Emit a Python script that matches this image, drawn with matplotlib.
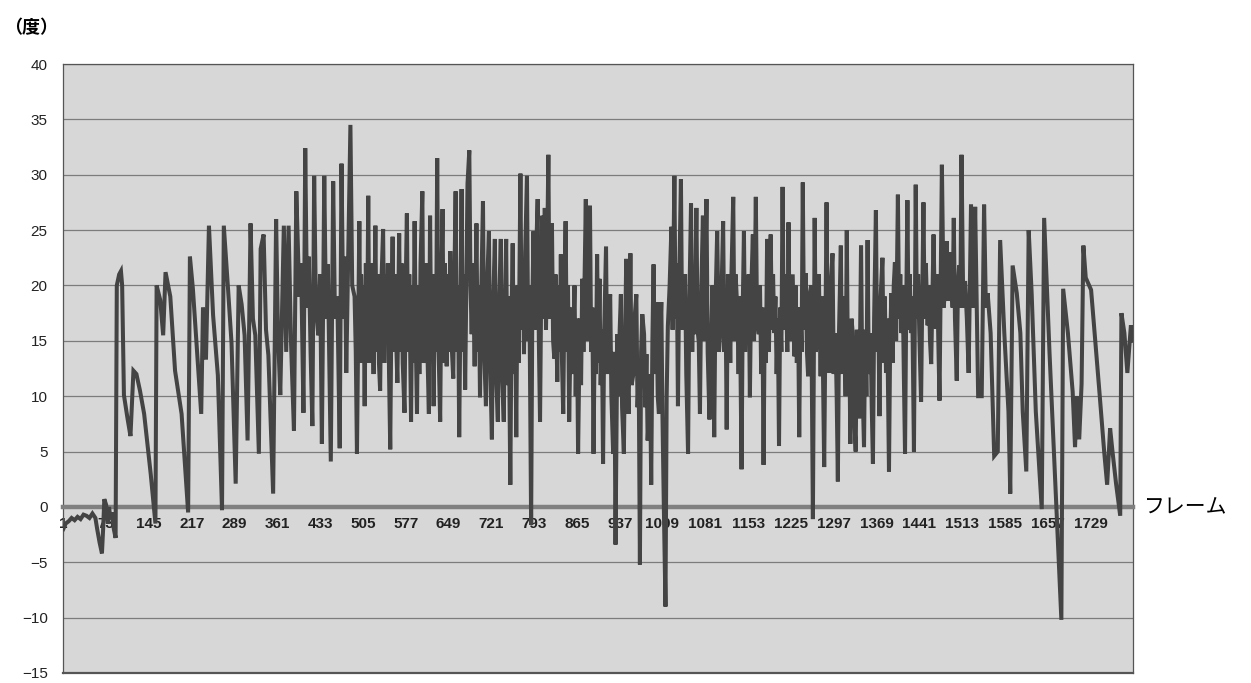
import matplotlib
matplotlib.use("Agg")
import matplotlib.pyplot as plt

# (frame, angle in degrees), split by phase
settle = [
    (1, -2.0), (5, -1.5), (10, -1.3), (15, -1.0), (20, -1.2), (25, -0.9), (30, -1.1), (35, -0.7),
    (40, -0.8), (45, -1.0), (50, -0.6), (55, -1.0), (58, -2.0), (62, -3.2), (66, -4.2), (68, -2.0),
    (70, 0.7), (73, 0.2), (76, -1.5), (78, 0.0), (80, -1.0), (83, -0.5), (86, -2.0), (89, -2.8),
]
ramp = [
    (91, 20.0), (95, 21.0), (98, 21.3), (100, 20.0), (103, 10.1), (109, 8.0), (114, 6.4), (119, 12.3),
    (124, 12.0), (130, 10.5), (137, 8.4), (143, 5.5), (148, 3.0), (156, -1.5), (158, 20.0), (164, 18.7),
    (169, 15.5), (173, 21.2), (181, 19.0), (189, 12.3), (200, 8.4), (211, -0.5), (214, 22.6), (219, 19.7),
    (225, 14.8), (233, 8.4), (236, 18.0), (241, 13.3), (246, 25.4), (253, 17.3), (261, 11.9), (268, -0.3),
    (271, 25.4), (278, 19.8), (284, 14.8), (291, 2.1), (296, 20.0), (301, 18.3), (306, 15.5), (311, 6.0),
    (316, 25.6), (320, 17.0), (324, 15.5), (330, 4.8), (333, 23.3), (338, 24.6), (342, 16.0), (346, 13.7),
    (354, 1.2), (359, 26.0), (362, 16.0), (366, 10.1), (372, 25.4), (376, 14.0), (380, 25.4), (384, 15.0),
    (389, 6.9), (393, 28.5), (398, 19.0), (401, 22.0), (405, 8.5), (408, 32.4), (411, 18.0), (414, 22.6),
    (417, 14.0), (420, 7.3), (423, 29.9), (426, 18.0), (430, 15.5), (433, 21.0), (436, 5.7), (440, 29.9),
    (443, 17.0), (446, 21.9), (451, 4.1), (455, 29.4), (458, 17.0), (462, 19.0), (466, 5.3), (469, 31.0),
    (472, 17.0), (475, 22.6), (477, 12.1), (484, 34.5),
]
dense_a = [
    (487, 20.0), (491, 19.0), (493, 14.0), (495, 4.8), (499, 25.8), (501, 13.0), (502, 21.0), (504, 15.5),
    (506, 20.0), (508, 9.1), (510, 22.0), (512, 14.0), (514, 28.1), (516, 13.0), (518, 22.0), (521, 17.3),
    (523, 12.0), (526, 25.4), (528, 14.0), (530, 21.0), (532, 13.0), (534, 10.5), (536, 20.0), (539, 25.1),
    (541, 13.0), (543, 21.0), (545, 15.5), (547, 22.0), (549, 12.0), (551, 5.2), (553, 18.0), (555, 24.4),
    (557, 14.0), (559, 21.0), (561, 15.0), (563, 11.2), (566, 24.7), (568, 14.0), (570, 22.0), (572, 13.0),
    (575, 8.5), (577, 20.0), (579, 26.5), (581, 14.0), (583, 21.0), (586, 7.7), (588, 20.0), (590, 13.0),
    (592, 25.8), (594, 15.0), (596, 8.4), (598, 20.0), (600, 12.0), (602, 22.0), (605, 28.5), (607, 13.0),
    (610, 15.6), (612, 22.0), (614, 13.0), (616, 8.4), (618, 26.3), (620, 14.0), (622, 21.0), (624, 9.1),
    (626, 20.0), (628, 14.0), (630, 31.5), (632, 15.0), (635, 7.7), (637, 20.0), (639, 26.9), (641, 13.0),
    (643, 22.0), (646, 12.7), (648, 21.0), (650, 14.0), (652, 23.1), (654, 15.0), (657, 11.6), (659, 21.0),
    (661, 28.5), (663, 14.0), (665, 20.0), (667, 6.3), (669, 18.0), (671, 28.7), (673, 14.0), (675, 21.0),
    (677, 10.6), (679, 20.0), (681, 29.2), (684, 32.2), (686, 20.0), (688, 15.6), (690, 22.0), (693, 12.7),
    (696, 25.6), (698, 14.0), (700, 20.0), (702, 9.9), (704, 19.0), (707, 27.6), (709, 14.0), (712, 9.1),
    (714, 20.0), (717, 24.9), (719, 13.0), (722, 6.1), (724, 18.0), (727, 24.2), (729, 12.0), (732, 7.7),
    (734, 18.0), (737, 24.2), (739, 12.0), (742, 7.7), (744, 18.0), (746, 24.2), (748, 11.0), (750, 19.0),
    (753, 2.0), (755, 17.0), (757, 23.8), (759, 12.0), (761, 18.0), (763, 6.3), (765, 20.0), (767, 13.0),
    (770, 30.1), (772, 16.0), (774, 22.0), (776, 13.8), (778, 23.0), (781, 29.9), (783, 15.0), (785, 20.0),
    (788, -1.6), (790, 18.0), (792, 24.9), (794, 16.0), (796, 22.0), (799, 27.8), (801, 15.0), (803, 7.7),
    (805, 20.0), (807, 26.3), (809, 17.0), (811, 27.0), (813, 16.0), (815, 23.0), (817, 31.8), (819, 17.0),
    (821, 22.0), (823, 25.6), (825, 15.0), (827, 13.4), (829, 21.0), (832, 11.3), (834, 20.0), (836, 14.0),
    (838, 22.8), (840, 13.0), (842, 8.4), (844, 19.0), (846, 25.8), (848, 14.0), (850, 20.0), (852, 7.7),
    (855, 18.0), (857, 12.0), (859, 15.6), (861, 20.0), (863, 10.0), (865, 17.0), (867, 4.8), (870, 17.0),
    (872, 11.0), (874, 20.6), (876, 14.0), (878, 21.0), (880, 27.8), (882, 15.0), (884, 21.0), (887, 27.2),
    (889, 14.0), (891, 18.0), (893, 4.8), (895, 16.0), (897, 12.0), (899, 22.8), (901, 13.0), (903, 20.6),
    (905, 11.0), (907, 16.0), (909, 3.9), (911, 16.0), (914, 23.5), (916, 12.0), (918, 17.0), (921, 19.2),
    (923, 10.0), (926, 4.8), (928, 14.0), (930, -3.4), (933, 15.6), (935, 10.0), (937, 16.0), (939, 19.2),
    (941, 9.0), (944, 4.8), (946, 15.0), (948, 22.4), (950, 12.0), (952, 8.4), (955, 22.9), (957, 11.0),
    (960, 12.0), (962, 17.0), (965, 19.2), (967, 9.0), (969, 12.0), (971, -5.2), (973, 14.0), (975, 17.4),
    (978, 15.6), (980, 9.0), (982, 13.8), (984, 6.0), (986, 8.4), (988, 12.0), (990, 2.0), (992, 15.0),
    (994, 21.9), (996, 12.0), (999, 18.5), (1001, 10.0), (1003, 8.4), (1005, 15.0), (1007, 18.5), (1009, 8.0),
    (1011, 0.9), (1014, -9.0), (1016, 10.0), (1018, 16.3),
]
dense_b = [
    (1021, 20.0), (1024, 25.3), (1026, 16.0), (1029, 29.9), (1031, 17.0), (1033, 22.0), (1035, 9.1), (1037, 20.0),
    (1040, 29.6), (1042, 16.0), (1045, 17.4), (1047, 21.0), (1049, 12.0), (1052, 4.8), (1054, 18.0), (1057, 27.4),
    (1059, 14.0), (1061, 21.0), (1063, 15.6), (1066, 27.0), (1068, 16.0), (1070, 14.9), (1072, 8.4), (1074, 19.0),
    (1077, 26.3), (1079, 15.0), (1081, 21.0), (1083, 27.8), (1085, 14.0), (1088, 7.9), (1091, 15.6), (1093, 20.0),
    (1096, 6.3), (1098, 18.0), (1101, 24.9), (1104, 14.0), (1107, 16.3), (1109, 21.0), (1111, 25.8), (1113, 14.0),
    (1115, 19.0), (1117, 7.0), (1119, 21.0), (1121, 19.2), (1123, 13.0), (1125, 21.0), (1128, 28.0), (1130, 15.0),
    (1132, 21.0), (1135, 17.7), (1137, 12.0), (1139, 19.0), (1142, 3.4), (1144, 18.0), (1146, 24.9), (1148, 14.0),
    (1150, 20.0), (1152, 15.6), (1154, 21.0), (1156, 9.9), (1158, 19.0), (1161, 24.6), (1163, 15.0), (1166, 28.0),
    (1168, 17.0), (1171, 15.6), (1173, 20.0), (1175, 12.0), (1177, 18.0), (1179, 3.8), (1181, 17.0), (1183, 13.0),
    (1185, 24.2), (1188, 14.0), (1191, 24.6), (1193, 16.0), (1195, 21.0), (1197, 15.7), (1199, 19.0), (1201, 12.0),
    (1203, 17.0), (1205, 5.5), (1207, 18.0), (1209, 14.0), (1211, 28.9), (1213, 16.0), (1215, 21.0), (1217, 19.3),
    (1219, 14.0), (1221, 25.7), (1223, 15.0), (1226, 18.6), (1228, 21.0), (1231, 13.6), (1233, 20.0), (1235, 13.0),
    (1237, 18.0), (1239, 6.3), (1241, 18.0), (1243, 14.0), (1245, 29.3), (1247, 16.0), (1250, 21.1), (1252, 14.0),
    (1254, 11.8), (1256, 19.0), (1259, 20.0), (1262, -1.1), (1265, 26.1), (1267, 14.0), (1270, 15.7), (1272, 21.0),
    (1275, 11.8), (1277, 19.0), (1279, 12.0), (1281, 3.6), (1283, 16.0), (1285, 27.5), (1287, 15.0), (1290, 12.1),
    (1292, 20.0), (1295, 22.9), (1297, 12.0), (1300, 15.7), (1302, 10.0), (1304, 2.3), (1306, 16.0), (1309, 23.6),
    (1311, 12.0), (1313, 19.0), (1315, 16.4), (1317, 10.0), (1319, 25.0), (1321, 12.0), (1323, 16.0), (1325, 5.7),
    (1327, 17.0), (1329, 15.7), (1331, 9.0), (1334, 5.0), (1336, 16.0), (1338, 13.2), (1340, 8.0), (1343, 23.6),
    (1345, 12.0), (1348, 5.4), (1350, 16.0), (1352, 10.0), (1354, 24.1), (1356, 12.0), (1359, 15.7), (1361, 9.0),
    (1363, 3.9), (1365, 17.0), (1368, 26.8), (1370, 14.0), (1372, 18.0), (1374, 8.2), (1376, 19.0), (1379, 22.5),
    (1381, 13.0), (1383, 19.0), (1385, 12.1), (1387, 17.0), (1390, 3.2), (1392, 15.0), (1394, 19.3), (1396, 13.0),
    (1398, 20.0), (1400, 22.1), (1402, 15.0), (1405, 28.2), (1407, 17.0), (1409, 21.0), (1411, 15.7), (1413, 20.0),
    (1415, 12.0), (1417, 4.8), (1419, 18.0), (1421, 27.7), (1423, 16.0), (1425, 21.0), (1427, 15.7), (1429, 19.0),
    (1432, 5.0), (1435, 29.1), (1437, 17.0), (1439, 21.0), (1441, 15.7), (1444, 9.5), (1446, 19.0), (1448, 27.5),
    (1450, 17.0), (1452, 22.0), (1455, 16.4), (1457, 20.0), (1459, 15.0), (1461, 12.9), (1463, 19.0), (1465, 24.6),
    (1467, 18.0), (1469, 16.1), (1471, 21.0), (1473, 15.0), (1475, 9.6), (1479, 30.9), (1482, 18.0), (1485, 20.0),
    (1487, 24.0), (1489, 18.6), (1492, 23.0), (1495, 21.1), (1497, 18.0), (1499, 26.1), (1501, 17.0), (1504, 11.4),
    (1506, 20.0), (1508, 21.8), (1510, 18.0), (1512, 31.8), (1515, 18.0), (1518, 20.4), (1521, 17.0), (1524, 12.1),
    (1526, 20.0), (1528, 27.3), (1531, 18.0), (1533, 21.0), (1535, 27.1),
]
tail = [
    (1540, 10.0), (1546, 10.0), (1550, 27.3), (1553, 18.0), (1556, 19.3), (1561, 15.7), (1567, 4.6), (1573, 5.0),
    (1577, 24.1), (1584, 15.7), (1591, 8.6), (1594, 1.2), (1598, 21.8), (1605, 19.3), (1611, 15.7), (1615, 8.6),
    (1621, 3.2), (1625, 25.0), (1630, 19.3), (1637, 8.6), (1647, -0.2), (1651, 26.1), (1660, 14.0), (1670, 2.0),
    (1680, -10.2), (1683, 19.7), (1691, 15.7), (1699, 10.4), (1703, 5.4), (1706, 10.0), (1710, 6.1), (1714, 11.1),
    (1717, 23.6), (1721, 20.7), (1730, 19.6), (1736, 15.7), (1744, 10.4), (1752, 5.0), (1757, 2.0), (1762, 7.1),
    (1766, 5.0), (1772, 2.1), (1779, -0.8), (1781, 17.5), (1786, 15.7), (1791, 12.1), (1797, 16.4), (1799, 15.0),
]

tick_frames = list(range(1, 1730, 72))
y_ticks = list(range(-15, 41, 5))
n_frames = 1800

frames, angles = zip(*(settle + ramp + dense_a + dense_b + tail))

W, H, DPI = 1251, 683, 100
fig = plt.figure(figsize=(W / DPI, H / DPI), dpi=DPI)
fig.patch.set_facecolor("white")
ax = fig.add_axes([63 / W, 1 - 673 / H, (1133 - 63) / W, (673 - 64) / H])
ax.set_facecolor("#d7d7d7")

ax.plot(frames, angles, color="#444444", lw=2.9, solid_joinstyle="miter", zorder=3)

ax.set_xlim(0.5, n_frames + 0.5)
ax.set_ylim(-15, 40)
ax.set_yticks(y_ticks)
ax.set_yticklabels([str(v) if v >= 0 else "\u2212" + str(-v) for v in y_ticks])
ax.yaxis.grid(True, color="#7c7c7c", lw=0.9)
ax.set_axisbelow(True)
ax.tick_params(axis="y", length=0, pad=11, labelsize=11, labelcolor="#222222")
for lbl in ax.get_yticklabels():
    lbl.set_family("Liberation Sans")

# category axis crosses at 0
ax.spines["bottom"].set_position(("data", 0))
ax.spines["bottom"].set_color("#808080")
ax.spines["bottom"].set_linewidth(3.2)
ax.spines["bottom"].set_zorder(2.6)
for side in ("top", "left", "right"):
    ax.spines[side].set_color("#555555")
    ax.spines[side].set_linewidth(0.9)
ax.axhline(-15, color="#555555", lw=1.6, clip_on=False)

ax.set_xticks(tick_frames)
ax.set_xticklabels([str(t) for t in tick_frames])
ax.tick_params(axis="x", length=0, pad=7, labelsize=11, labelcolor="#222222")
for lbl in ax.get_xticklabels():
    lbl.set_family("Liberation Sans")
    lbl.set_fontweight("bold")

fig.text(4 / W, 1 - 28 / H, "（度）", fontsize=13, fontweight="bold",
         family=["Noto Sans CJK JP", "DejaVu Sans"], va="center", ha="left")
ax.annotate("フレーム", xy=(1, 0), xycoords=("axes fraction", "data"),
            xytext=(8, 0), textcoords="offset points", fontsize=15,
            family=["Noto Sans CJK JP", "DejaVu Sans"], va="center", ha="left")

fig.savefig("out.png", dpi=DPI)
